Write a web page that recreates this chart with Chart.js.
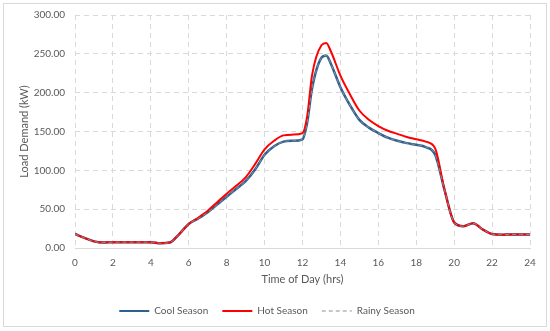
<!DOCTYPE html>
<html>
<head>
<meta charset="utf-8">
<script src="https://cdn.jsdelivr.net/npm/chart.js@4.4.1/dist/chart.umd.min.js"></script>
<style>
  html, body { margin: 0; padding: 0; background: #fff; }
  #frame {
    position: absolute; left: 3px; top: 3px;
    width: 542px; height: 322px;
    border: 1px solid #d9d9d9;
  }
  #wrap { position: absolute; left: 0; top: -5px; width: 542px; height: 327px; }
</style>
</head>
<body>
<div id="frame"><div id="wrap"><canvas id="loadChart"></canvas></div></div>
<script>
// Time of day (hrs)
const hours = [0, 0.5, 1, 1.5, 2, 2.5, 3, 3.5, 4, 4.5, 5, 5.5, 6, 6.5, 7, 7.5, 8, 8.5, 9, 9.5,
  10, 10.5, 11, 11.5, 12, 12.25, 12.5, 13, 13.25, 13.5, 14, 14.5, 15, 15.5, 16, 16.5, 17, 17.5,
  18, 18.5, 19, 19.5, 20, 20.5, 21, 21.5, 22, 22.5, 23, 23.5, 24];

// Load demand (kW) per season
const coolSeason = [18, 13, 8.5, 7, 7.5, 7.5, 7.5, 7.5, 7.5, 6, 7, 18, 31, 38, 46, 56, 66, 76, 86, 101,
  120, 131, 137, 138, 140, 162, 205, 245, 248, 237, 207, 184, 165, 155, 148, 142, 138, 135,
  133, 130, 120, 74, 33, 28, 32, 24, 18, 17, 17.5, 17.5, 17.5];
const hotSeason = [18, 13, 8.5, 7, 7.5, 7.5, 7.5, 7.5, 7.5, 6, 7, 18, 31, 39, 48, 59, 70, 80, 91, 108,
  127, 138, 145, 146, 148, 170, 222, 261, 264, 253, 222, 198, 177, 165, 157, 151, 147, 143,
  140, 137, 128, 74, 33, 28, 32, 24, 18, 17, 17.5, 17.5, 17.5];
const rainySeason = [18, 13, 8.5, 7, 7.5, 7.5, 7.5, 7.5, 7.5, 6, 7, 18, 31, 38, 46, 56, 66, 76, 86, 101,
  120, 131, 137, 138, 140, 162, 205, 245, 248, 237, 207, 184, 165, 155, 148, 142, 138, 135,
  133, 130, 120, 74, 33, 28, 32, 24, 18, 17, 17.5, 17.5, 17.5];

const yTicks = [0, 50, 100, 150, 200, 250, 300];

const toPoints = (vals) => vals.map((v, i) => ({ x: hours[i], y: v }));

const FONT = 'Lato, "Open Sans", sans-serif';
const GRID = '#d9d9d9';
const TEXT = '#595959';

document.addEventListener("DOMContentLoaded", () => {
  const ctx = document.getElementById('loadChart').getContext('2d');

  new Chart(ctx, {
    type: 'line',
    data: {
      datasets: [
        {
          label: 'Cool Season',
          data: toPoints(coolSeason),
          borderColor: '#2e6190',
          borderWidth: 2.5,
          order: 3
        },
        {
          label: 'Hot Season',
          data: toPoints(hotSeason),
          borderColor: '#ff0000',
          borderWidth: 2,
          order: 2
        },
        {
          label: 'Rainy Season',
          data: toPoints(rainySeason),
          borderColor: '#8f8f8f',
          borderWidth: 1,
          borderDash: [4, 3],
          order: 1
        }
      ]
    },
    options: {
      responsive: true,
      maintainAspectRatio: false,
      animation: false,
      elements: {
        point: { radius: 0 },
        line: { cubicInterpolationMode: 'monotone', fill: false }
      },
      layout: { padding: { top: 2, right: 16, left: 0, bottom: 0 } },
      scales: {
        x: {
          type: 'linear',
          min: 0,
          max: 24,
          ticks: { stepSize: 2, color: TEXT, font: { family: FONT, size: 10 }, padding: 9, maxRotation: 0 },
          grid: { color: GRID, lineWidth: 1, drawTicks: false },
          border: { display: true, color: GRID, width: 1, dash: [5, 4] },
          title: { display: true, text: 'Time of Day (hrs)', color: TEXT, font: { family: FONT, size: 11 }, padding: { top: 0, bottom: 6 } },
          afterFit: (scale) => { scale.height = 44; }
        },
        y: {
          min: 0,
          max: 300,
          afterBuildTicks: (scale) => { scale.ticks = yTicks.map(v => ({ value: v })); },
          ticks: { color: TEXT, font: { family: FONT, size: 10 }, padding: 10, callback: (v) => Number(v).toFixed(2) },
          grid: { color: GRID, lineWidth: 1, drawTicks: false },
          border: { display: false, dash: [5, 4] },
          title: { display: true, text: 'Load Demand (kW)', color: TEXT, font: { family: FONT, size: 11 }, padding: { top: 14, bottom: 0 } },
          afterFit: (scale) => { scale.width = 71; }
        }
      },
      plugins: {
        legend: {
          position: 'bottom',
          labels: {
            usePointStyle: true,
            pointStyle: 'line',
            pointStyleWidth: 30,
            boxWidth: 30,
            color: TEXT,
            font: { family: FONT, size: 10 },
            padding: 14,
            sort: (a, b) => a.datasetIndex - b.datasetIndex,
            // point styles drop the dash, so copy it back from the dataset
            generateLabels: (chart) => {
              const items = Chart.defaults.plugins.legend.labels.generateLabels(chart);
              return items.map(item => {
                const ds = chart.data.datasets[item.datasetIndex];
                item.lineDash = ds.borderDash || [];
                item.lineWidth = ds.borderDash ? 1 : 2;
                item.strokeStyle = ds.borderColor;
                return item;
              });
            }
          }
        },
        tooltip: { enabled: false }
      }
    }
  });
});
</script>
</body>
</html>
